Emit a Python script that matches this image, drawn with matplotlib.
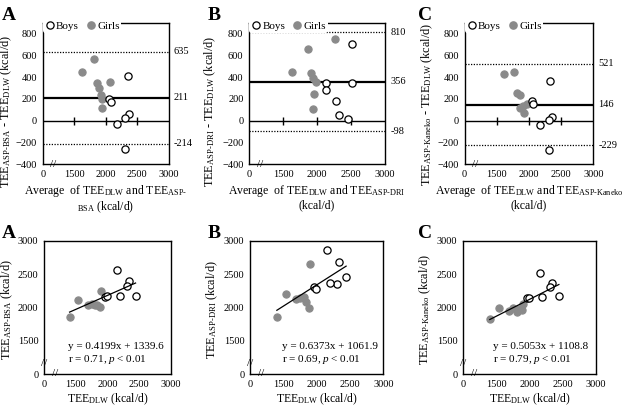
import numpy as np
import matplotlib
matplotlib.use("Agg")
import matplotlib.pyplot as plt
from matplotlib.lines import Line2D

plt.rcParams['font.family'] = 'Liberation Serif'
plt.rcParams['mathtext.fontset'] = 'custom'
plt.rcParams['mathtext.rm'] = 'Liberation Serif'
plt.rcParams['mathtext.it'] = 'Liberation Serif:italic'
plt.rcParams['mathtext.bf'] = 'Liberation Serif:bold'

# ------ TEE measured by DLW (kcal/d) ------
girls_dlw = [1540, 1403, 1695, 1751, 1897, 1806, 1841, 1889]
boys_dlw = [2154, 1961, 1997, 2337, 2306, 2194, 2442]

# ------ TEE estimated by ASP (kcal/d) ------
girls_bsa = [2107, 1851, 2036, 2052, 2250, 2040, 2038, 2006]
boys_bsa = [2562, 2155, 2164, 2396, 2326, 2164, 2177]
girls_dri = [2202, 1854, 2128, 2138, 2645, 2156, 2084, 1997]
boys_dri = [2862, 2302, 2279, 2684, 2353, 2370, 2458]
girls_kan = [1985, 1827, 1944, 1985, 2045, 1923, 1974, 1955]
boys_kan = [2516, 2140, 2145, 2372, 2307, 2149, 2171]

# ------ Bland-Altman lines: mean bias, upper LoA, lower LoA ------
bsa_lines = [211, 635, -214]
dri_lines = [356, 810, -98]
kan_lines = [146, 521, -229]

# ------ regression: slope, intercept, r ------
bsa_fit = [0.4199, 1339.6, '0.71']
dri_fit = [0.6373, 1061.9, '0.69']
kan_fit = [0.5053, 1108.8, '0.79']

axis_ticks = [1000, 1500, 2000, 2500, 3000]
axis_labels = ['0', '1500', '2000', '2500', '3000']
ba_yticks = [-400, -200, 0, 200, 400, 600, 800]

GRAY = '#8a8a8a'

fig = plt.figure(figsize=(6.25, 4.09), dpi=100)
W, H = 625.0, 409.0


def px_axes(l, r, t, b):
    return fig.add_axes([l / W, 1 - b / H, (r - l) / W, (b - t) / H])


def points(ax, gx, gy, bx, by):
    ax.plot(gx, gy, 'o', ms=5.2, mfc=GRAY, mec=GRAY, mew=0.8, zorder=3)
    ax.plot(bx, by, 'o', ms=5.2, mfc='white', mec='black', mew=0.9, zorder=4)


def ba_panel(ax, asp_g, asp_b, lines, ylab, xlab, ylab_y):
    dg = np.array(girls_dlw); db = np.array(boys_dlw)
    ag = np.array(asp_g); ab = np.array(asp_b)
    ax.set_xlim(1000, 3000)
    ax.set_ylim(-400, 900)
    ax.axhline(0, color='black', lw=1.0, zorder=2)
    ax.axhline(lines[0], color='black', lw=1.6, zorder=2)
    ax.axhline(lines[1], color='black', lw=0.9, ls=(0, (1, 1.2)), zorder=2)
    ax.axhline(lines[2], color='black', lw=0.9, ls=(0, (1, 1.2)), zorder=2)
    ax.plot(axis_ticks[1:4], [0, 0, 0], ls='none', marker='|', ms=6,
            mew=1.0, color='black', zorder=2)
    points(ax, (ag + dg) / 2, ag - dg, (ab + db) / 2, ab - db)
    ax.set_xticks(axis_ticks)
    ax.set_xticklabels(axis_labels)
    ax.set_yticks(ba_yticks)
    ax.tick_params(length=0, labelsize=7.5, pad=4)
    for v in lines:
        ax.text(1.04, v, str(v), transform=ax.get_yaxis_transform(),
                ha='left', va='center', fontsize=7.5)
    ax.text(1160, -400, '//', ha='center', va='center', fontsize=8,
            clip_on=False, zorder=5)
    ax.set_ylabel(ylab, fontsize=8.8)
    ax.yaxis.set_label_coords(-0.228, ylab_y)
    ax.set_xlabel(xlab, fontsize=8.5, linespacing=1.1, labelpad=3)
    for s in ax.spines.values():
        s.set_linewidth(1.0)
    handles = [Line2D([], [], ls='none', marker='o', ms=5.2, mfc='white',
                      mec='black', mew=0.9),
               Line2D([], [], ls='none', marker='o', ms=5.2, mfc=GRAY,
                      mec=GRAY)]
    leg = ax.legend(handles, ['Boys', 'Girls'], ncol=2, loc='lower left',
                    bbox_to_anchor=(0.0, 0.93), fontsize=8, frameon=True,
                    handletextpad=0.05, columnspacing=0.6, handlelength=1.0,
                    borderpad=0.15, borderaxespad=0.0)
    leg.get_frame().set_edgecolor('none')
    leg.get_frame().set_facecolor('white')
    leg.get_frame().set_alpha(1)


def fit_panel(ax, asp_g, asp_b, fit, ylab, tx):
    ax.set_xlim(1000, 3000)
    ax.set_ylim(1000, 3000)
    points(ax, girls_dlw, asp_g, boys_dlw, asp_b)
    allx = np.array(girls_dlw + boys_dlw)
    xs = np.array([allx.min(), allx.max()])
    ax.plot(xs, fit[0] * xs + fit[1], color='black', lw=0.9, zorder=5)
    ax.set_xticks(axis_ticks)
    ax.set_xticklabels(axis_labels)
    ax.set_yticks(axis_ticks)
    ax.set_yticklabels(axis_labels)
    ax.tick_params(length=0, labelsize=7.5, pad=4)
    ax.text(tx, 0.205, 'y = %.4fx + %.1f' % (fit[0], fit[1]),
            transform=ax.transAxes, fontsize=8, va='center', ha='left')
    ax.text(tx, 0.11, 'r = %s, $p$ < 0.01' % fit[2],
            transform=ax.transAxes, fontsize=8, va='center', ha='left')
    ax.text(1170, 1000, '//', ha='center', va='center', fontsize=8,
            clip_on=False, zorder=6)
    ax.text(1000, 1160, '//', ha='center', va='center', fontsize=8,
            clip_on=False, zorder=6)
    ax.set_ylabel(ylab, fontsize=8.8)
    ax.yaxis.set_label_coords(-0.225, 0.48)
    ax.set_xlabel(r'TEE$_{\mathrm{DLW}}$ (kcal/d)', fontsize=8.5, labelpad=2)
    for s in ax.spines.values():
        s.set_linewidth(1.0)


# ------ Bland-Altman plots ------
axA = px_axes(42.7, 168.5, 22.7, 164)
ba_panel(axA, girls_bsa, boys_bsa, bsa_lines,
         r'TEE$_{\text{ASP-BSA}}$ - TEE$_{\mathrm{DLW}}$ (kcal/d)',
         'Average  of TEE$_{\\mathrm{DLW}}$ and TEE$_{\\text{ASP-}}$\n'
         '$_{\\mathrm{BSA}}$ (kcal/d)', 0.37)
axB = px_axes(249, 385, 22.7, 164)
ba_panel(axB, girls_dri, boys_dri, dri_lines,
         r'TEE$_{\text{ASP-DRI}}$ - TEE$_{\mathrm{DLW}}$ (kcal/d)',
         'Average  of TEE$_{\\mathrm{DLW}}$ and TEE$_{\\text{ASP-DRI}}$\n'
         '(kcal/d)', 0.37)
axC = px_axes(464.5, 593.3, 22.7, 164)
ba_panel(axC, girls_kan, boys_kan, kan_lines,
         r'TEE$_{\text{ASP-Kaneko}}$ - TEE$_{\mathrm{DLW}}$ (kcal/d)',
         'Average  of TEE$_{\\mathrm{DLW}}$ and TEE$_{\\text{ASP-Kaneko}}$\n'
         '(kcal/d)', 0.42)

# ------ Regression plots ------
axD = px_axes(44, 171, 240.7, 374)
fit_panel(axD, girls_bsa, boys_bsa, bsa_fit,
          r'TEE$_{\text{ASP-BSA}}$ (kcal/d)', 0.19)
axE = px_axes(250, 383.3, 240.7, 374)
fit_panel(axE, girls_dri, boys_dri, dri_fit,
          r'TEE$_{\text{ASP-DRI}}$ (kcal/d)', 0.24)
axF = px_axes(463, 596, 240.7, 374)
fit_panel(axF, girls_kan, boys_kan, kan_fit,
          r'TEE$_{\text{ASP-Kaneko}}$ (kcal/d)', 0.223)

# ------ Panel letters ------
for x, y, s in [(2, 20, 'A'), (208, 20, 'B'), (418, 20, 'C'),
                (2, 238, 'A'), (208, 238, 'B'), (418, 238, 'C')]:
    fig.text(x / W, 1 - y / H, s, fontsize=14, fontweight='bold',
             ha='left', va='baseline')

fig.savefig('out.png', dpi=100)
